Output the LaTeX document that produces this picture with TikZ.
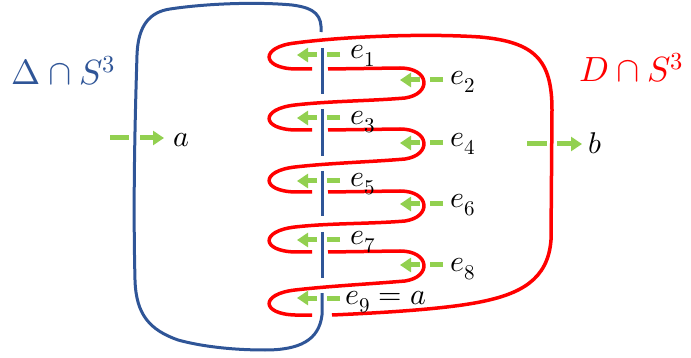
\documentclass[tikz,border=0pt]{standalone}
\usepackage{unicode-math}
\setmathfont{Latin Modern Math}
\usetikzlibrary{arrows.meta}
\definecolor{kblue}{RGB}{47,85,151}
\definecolor{kred}{RGB}{255,0,0}
\definecolor{kgreen}{RGB}{146,208,80}
\begin{document}
\begin{tikzpicture}[x=1pt,y=-1pt,
 blueline/.style={draw=kblue,line width=3pt},
 redline/.style={draw=kred,line width=3.5pt},
 gdash/.style={draw=kgreen,line width=5pt},
 garr/.style={draw=kgreen,line width=5pt,-{Triangle[length=11pt,width=14pt]}},
 lab/.style={anchor=base west,inner sep=0pt,font=\fontsize{30}{32}\selectfont},
 biglab/.style={anchor=base west,inner sep=0pt,font=\fontsize{35}{38}\selectfont}]
\path[use as bounding box] (0,0) rectangle (691,358);

% blue curve Delta cap S^3
\draw[blueline] (322,293) -- (322,315) .. controls (319,340) and (300,350) .. (265,350)
  .. controls (230,350) and (200,346) .. (178,340)
  .. controls (150,330) and (136,315) .. (135,280)
  .. controls (133,200) and (135,120) .. (137,55)
  .. controls (138,25) and (150,12) .. (170,9)
  .. controls (210,3) and (260,2) .. (292,5)
  .. controls (316,8) and (322,16) .. (321,32);
\draw[blueline] (322,48) -- (322,94);
\draw[blueline] (322,109) -- (322,156);
\draw[blueline] (322,171) -- (322,216);
\draw[blueline] (322,232) -- (322,278);

% red curve D cap S^3
\draw[redline] (332,315) .. controls (400,312) and (450,308) .. (480,302)
  .. controls (520,294) and (548,280) .. (551,240)
  -- (552,110) .. controls (552,60) and (535,42) .. (480,37)
  .. controls (420,33) and (340,37) .. (295,43)
  .. controls (260,47) and (261,68) .. (295,69) -- (312,69);
\foreach \ya/\yb in {69/130,130/192,192/252,252/315}{
  \draw[redline] (328,\ya) -- (400,\ya-1)
    .. controls (430,\ya-1) and (432,\ya+25) .. (405,\ya+29)
    .. controls (370,\ya+32) and (330,\yb-29) .. (295,\yb-25)
    .. controls (260,\yb-21) and (261,\yb-1) .. (295,\yb) -- (312,\yb);
}

% green arrows, left loops
\foreach \yy in {55,118,181,240,298}{
  \draw[gdash] (340,\yy) -- (327,\yy);
  \draw[garr] (317,\yy) -- (297,\yy);
}
% green arrows, right loops
\foreach \yy in {80,143,204,265}{
  \draw[gdash] (443,\yy) -- (430,\yy);
  \draw[garr] (420,\yy) -- (400,\yy);
}
\draw[gdash] (110,138) -- (129,138);
\draw[garr] (140,138) -- (164,138);
\draw[gdash] (527,144) -- (547,144);
\draw[garr] (557,144) -- (582,144);

% labels
\node[lab] (e1) at (350,59) {$e_1$};
\node[lab] (e2) at (450,85) {$e_2$};
\node[lab] (e3) at (350,125) {$e_3$};
\node[lab] (e4) at (450,147) {$e_4$};
\node[lab] (e5) at (350,187) {$e_5$};
\node[lab] (e6) at (450,208) {$e_6$};
\node[lab] (e7) at (350,245) {$e_7$};
\node[lab] (e8) at (450,272) {$e_8$};
\node[lab] (e9) at (345,305) {$e_9=a$};
\node[lab] (a) at (173,147) {$a$};
\node[lab] (b) at (588,154) {$b$};
\node[biglab,text=kblue] (delta) at (11,85) {$\mupDelta\cap S^3$};
\node[biglab,text=kred] (dlab) at (579,82) {$D\cap S^3$};
\end{tikzpicture}
\end{document}
